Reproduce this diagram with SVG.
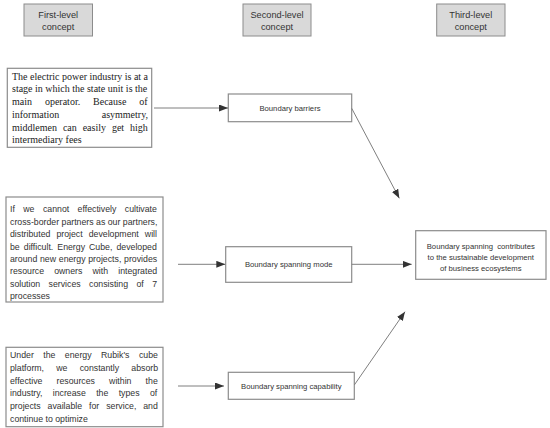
<svg xmlns="http://www.w3.org/2000/svg" width="550" height="428" viewBox="0 0 550 428">
<style>
.hdr{fill:#d9d9d9;stroke:#8c8c8c;stroke-width:1}
.box{fill:#ffffff;stroke:#8c8c8c;stroke-width:1.2}
.h{font-family:"Liberation Sans",Arial,sans-serif;font-size:9.2px;fill:#333;text-anchor:middle}
.n{font-family:"Liberation Sans",Arial,sans-serif;font-size:7.7px;fill:#333;text-anchor:middle}
.t1{font-family:"Liberation Serif","Times New Roman",serif;font-size:10px;fill:#222}
.t2{font-family:"Liberation Sans",Arial,sans-serif;font-size:8.75px;fill:#333}
.e{text-anchor:end}
.c{stroke:#7f7f7f;stroke-width:1;fill:none;marker-end:url(#ah)}
</style>
<defs>
<marker id="ah" markerUnits="userSpaceOnUse" markerWidth="10" markerHeight="8" refX="9" refY="3.5" orient="auto">
<path d="M0,0 L9,3.5 L0,7 z" fill="#333"/>
</marker>
</defs>
<rect width="550" height="428" fill="#ffffff"/>
<g id="hdr-first">
<rect class="hdr" x="24" y="4" width="68.5" height="32"/>
<text class="h" x="58.2" y="17.5">First-level</text>
<text class="h" x="58.2" y="30">concept</text>
</g>
<g id="hdr-second">
<rect class="hdr" x="243" y="4" width="68" height="32"/>
<text class="h" x="277" y="17.5">Second-level</text>
<text class="h" x="277" y="30">concept</text>
</g>
<g id="hdr-third">
<rect class="hdr" x="436.7" y="4" width="68.3" height="32"/>
<text class="h" x="470.8" y="17.5">Third-level</text>
<text class="h" x="470.8" y="30">concept</text>
</g>
<g id="src1">
<rect class="box" x="7.3" y="68.3" width="144.4" height="79"/>
<text class="t1" x="12" y="79.5">The electric power industry is at a</text>
<text class="t1" x="12" y="92.3">stage in which the state unit is the</text>
<text class="t1" x="12" y="105" style="word-spacing:10.4px">main operator. Because of</text>
<text class="t1" x="12" y="117.8">information</text>
<text class="t1 e" x="148" y="117.8">asymmetry,</text>
<text class="t1" x="12" y="130.6" style="word-spacing:3.4px">middlemen can easily get high</text>
<text class="t1" x="12" y="143.3">intermediary fees</text>
</g>
<g id="src2">
<rect class="box" x="6" y="197" width="157" height="105"/>
<text class="t2" x="10" y="212.3" style="word-spacing:6px">If we cannot effectively cultivate</text>
<text class="t2" x="10" y="224.7">cross-border partners as our partners,</text>
<text class="t2" x="10" y="237.1" style="word-spacing:3.6px">distributed project development will</text>
<text class="t2" x="10" y="249.5" style="word-spacing:1.6px">be difficult. Energy Cube, developed</text>
<text class="t2" x="10" y="261.9" style="word-spacing:0.3px">around new energy projects, provides</text>
<text class="t2" x="10" y="274.2" style="word-spacing:7.7px">resource owners with integrated</text>
<text class="t2" x="10" y="286.6" style="word-spacing:6px">solution services consisting of 7</text>
<text class="t2" x="10" y="298.6">processes</text>
</g>
<g id="src3">
<rect class="box" x="6" y="347.3" width="157" height="79.4"/>
<text class="t2" x="10" y="358.3" style="word-spacing:7px">Under the energy Rubik's cube</text>
<text class="t2" x="10" y="371" style="word-spacing:9.8px">platform, we constantly absorb</text>
<text class="t2" x="10" y="383.7" style="word-spacing:11.7px">effective resources within the</text>
<text class="t2" x="10" y="396.4" style="word-spacing:7.9px">industry, increase the types of</text>
<text class="t2" x="10" y="409" style="word-spacing:4.5px">projects available for service, and</text>
<text class="t2" x="10" y="421.7">continue to optimize</text>
</g>
<g id="barriers">
<rect class="box" x="228.3" y="94" width="123.4" height="27.7"/>
<text class="n" x="290" y="110.5">Boundary barriers</text>
</g>
<g id="mode">
<rect class="box" x="225.7" y="246.7" width="126" height="35.6"/>
<text class="n" x="288.7" y="267.2">Boundary spanning mode</text>
</g>
<g id="capability">
<rect class="box" x="228.3" y="372.3" width="126" height="27"/>
<text class="n" x="291.3" y="388.6">Boundary spanning capability</text>
</g>
<g id="outcome">
<rect class="box" x="415.7" y="230.7" width="130.3" height="48.6"/>
<text class="n" x="480.8" y="248.5" xml:space="preserve">Boundary spanning  contributes</text>
<text class="n" x="480.8" y="259.5">to the sustainable development</text>
<text class="n" x="480.8" y="270.5">of business ecosystems</text>
</g>
<g id="connectors">
<line class="c" x1="154" y1="108" x2="228" y2="108"/>
<line class="c" x1="178" y1="264.3" x2="225.3" y2="264.3"/>
<line class="c" x1="178" y1="386" x2="224" y2="386"/>
<line class="c" x1="351.7" y1="108.3" x2="399.3" y2="198.3"/>
<line class="c" x1="351.7" y1="264.3" x2="411.7" y2="264.3"/>
<line class="c" x1="354.3" y1="385" x2="405" y2="311.7"/>
</g>
</svg>
